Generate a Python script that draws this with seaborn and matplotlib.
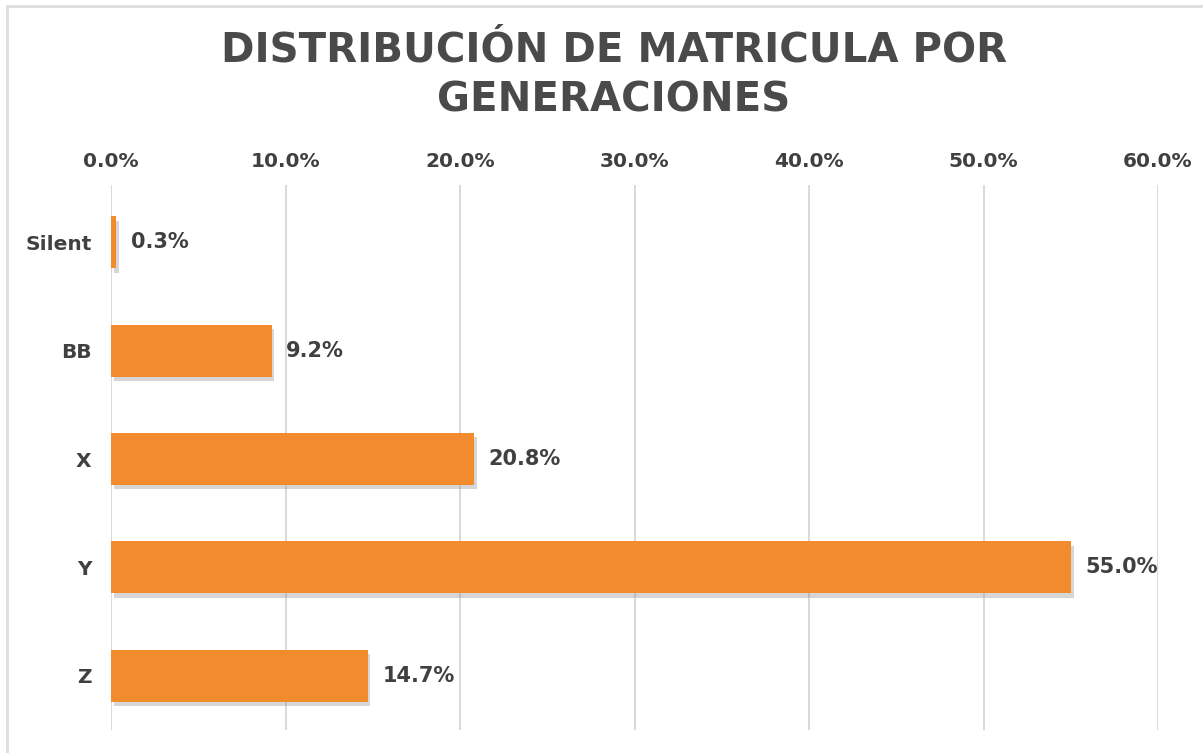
import numpy as np
import pandas as pd
import matplotlib.pyplot as plt
import matplotlib.patheffects as pe
from matplotlib.lines import Line2D
import seaborn as sns

# Datos: distribucion de matricula por generaciones (%)
generaciones = ["Silent", "BB", "X", "Y", "Z"]
porcentajes = [0.3, 9.2, 20.8, 55.0, 14.7]
ticks_x = [0, 10, 20, 30, 40, 50, 60]

df = pd.DataFrame({"Generacion": generaciones, "Porcentaje": porcentajes})

sns.set_style("white")
plt.rcParams["font.family"] = ["DejaVu Sans"]

gris = "#404040"
naranja = "#F28A2E"

fig = plt.figure(figsize=(12.03, 7.53), dpi=100)
ax = fig.add_axes([111 / 1203, 1 - 730 / 753, (1158 - 111) / 1203, (730 - 185) / 753])

sns.barplot(data=df, x="Porcentaje", y="Generacion", color=naranja,
            width=0.48, saturation=1, ax=ax, zorder=3)

for bar in ax.patches:
    bar.set_path_effects([pe.SimplePatchShadow(offset=(2, -3), shadow_rgbFace="#8a8a8a", alpha=0.35),
                          pe.Normal()])
    bar.set_edgecolor("none")

ax.set_xlim(0, 60)
ax.set_ylim(4.5, -0.53)
ax.set_xticks(ticks_x)
ax.set_xticklabels([f"{t:.1f}%" for t in ticks_x])
ax.xaxis.tick_top()
ax.tick_params(axis="x", length=0, pad=10, labelsize=14.5, colors=gris)
ax.tick_params(axis="y", length=0, pad=14, labelsize=14.5, colors=gris)
for lab in ax.get_xticklabels() + ax.get_yticklabels():
    lab.set_fontweight("bold")
ax.set_xlabel("")
ax.set_ylabel("")
ax.grid(axis="x", color="#d9d6d6", linewidth=1.3, zorder=0)
sns.despine(ax=ax, left=True, bottom=True, top=True, right=True)

# etiquetas de valor
for i, v in enumerate(porcentajes):
    ax.text(v + 0.85, i, f"{v:.1f}%", va="center", ha="left",
            fontsize=15, fontweight="bold", color=gris)

fig.suptitle("DISTRIBUCIÓN DE MATRICULA POR\nGENERACIONES", x=614 / 1203, y=1 - 31 / 753,
             fontsize=29, fontweight="bold", color="#4a4a4a", linespacing=1.3, va="top")

# marco exterior (abierto a la derecha y abajo)
fig.add_artist(Line2D([7 / 1203, 7 / 1203], [0, 1 - 6 / 753], transform=fig.transFigure,
                      color="#dedede", linewidth=2))
fig.add_artist(Line2D([7 / 1203, 1], [1 - 6 / 753, 1 - 6 / 753], transform=fig.transFigure,
                      color="#dedede", linewidth=2))

fig.savefig("out.png", dpi=100)
